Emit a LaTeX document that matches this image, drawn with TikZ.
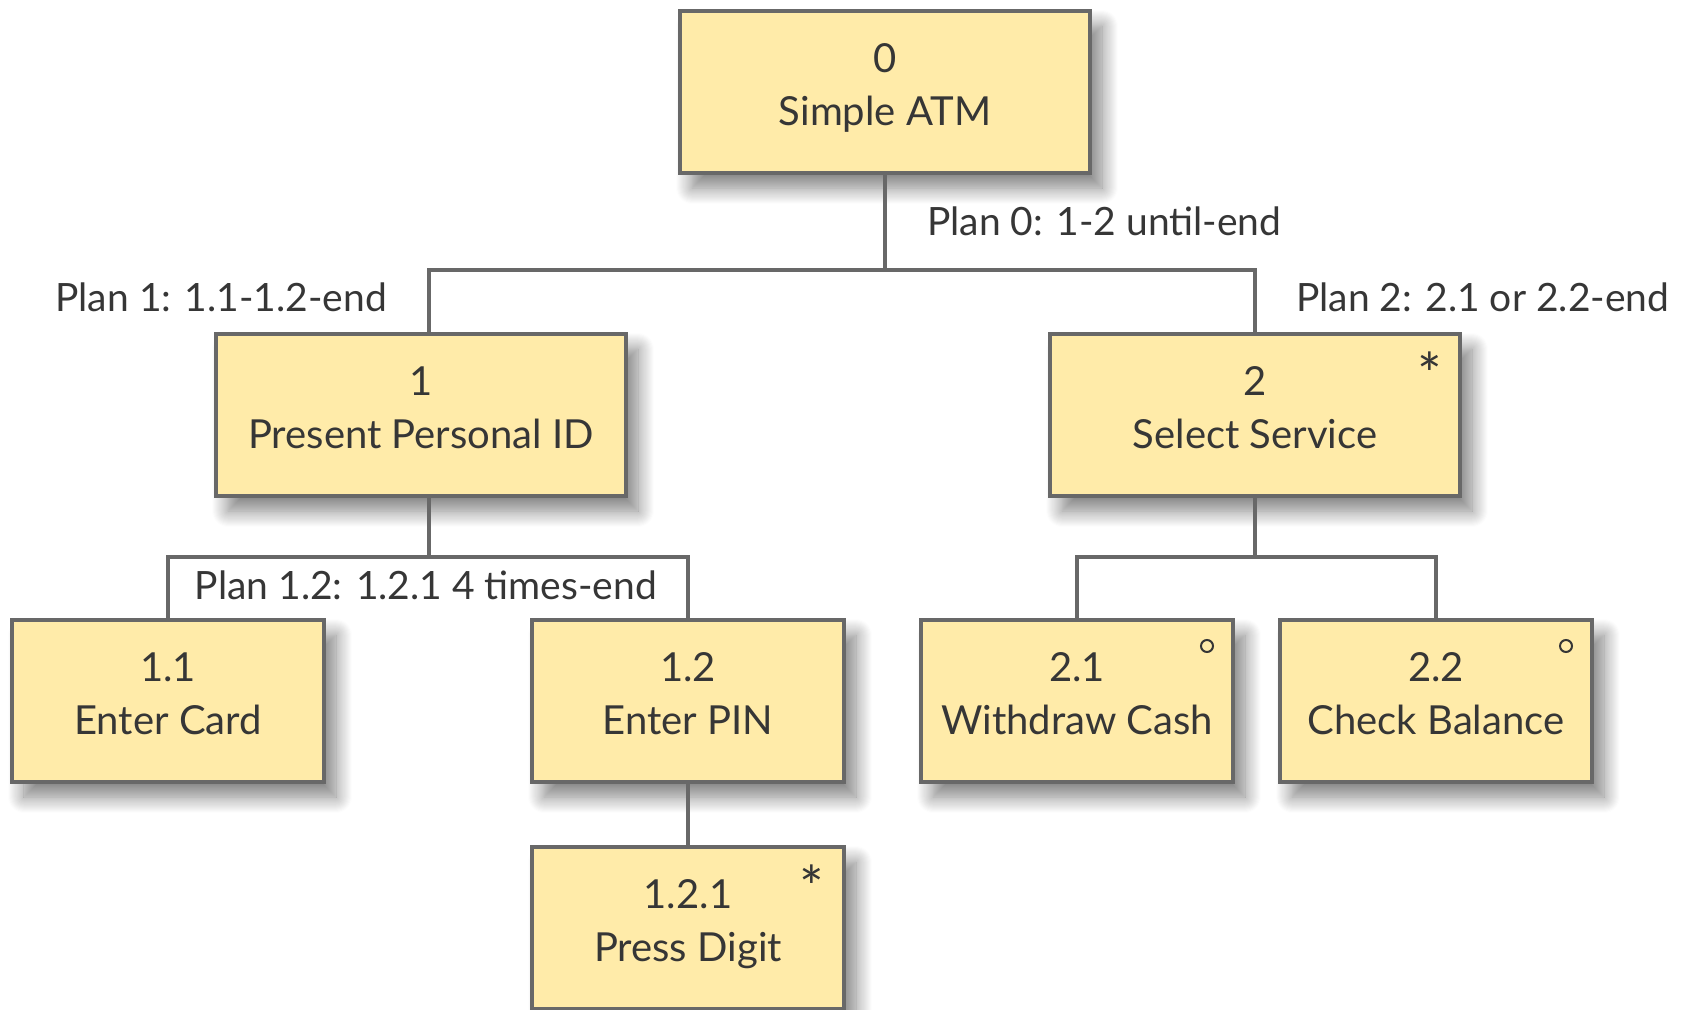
\documentclass[tikz,border=0pt]{standalone}
\usepackage{fontspec}
\setmainfont{Lato}
\usepackage{xcolor}
\usepackage{tikz}
\usetikzlibrary{positioning,calc,shadows.blur}
\definecolor{boxfill}{RGB}{255,235,169}
\definecolor{boxline}{RGB}{104,104,104}
\definecolor{ink}{RGB}{54,54,54}

\begin{document}
\begin{tikzpicture}[x=1pt,y=-1pt,
  task/.style={draw=boxline,line width=4pt,fill=boxfill,minimum width=312,minimum height=162,
    align=center,text=ink,font=\fontsize{40}{53}\selectfont,text height=82pt,text depth=16pt,
    blur shadow={shadow xshift=12pt,shadow yshift=-15pt,shadow blur radius=16pt,shadow blur steps=16,shadow opacity=50}},
  widetask/.style={task,minimum width=410},
  plan/.style={text=ink,font=\fontsize{39}{44}\selectfont,inner sep=0pt},
  link/.style={draw=boxline,line width=3.2pt},
  often/.style={text=ink,font=\fontsize{58}{60}\selectfont,inner sep=0pt,anchor=north},
  option/.style={draw=ink,circle,line width=2pt,minimum size=12pt,inner sep=0pt}]
\path[use as bounding box,clip] (0,0) rectangle (1694,1009);
\node[widetask] (atm) at (885,92) {0\\Simple ATM};
\node[widetask] (pid) at (421,415) {1\\Present Personal ID};
\node[widetask] (srv) at (1255,415) {2\\Select Service};
\node[task] (card) at (168,701) {1.1\\Enter Card};
\node[task] (pin) at (688,701) {1.2\\Enter PIN};
\node[task] (digit) at (688,928) {1.2.1\\Press Digit};
\node[task] (cash) at (1077,701) {2.1\\Withdraw Cash};
\node[task] (bal) at (1436,701) {2.2\\Check Balance};
\node[often] (srvrep) at ($(srv.north east)+(-32,20)$) {*};
\node[often] (digitrep) at ($(digit.north east)+(-34,20)$) {*};
\node[option] (cashopt) at ($(cash.north east)+(-28,28)$) {};
\node[option] (balopt) at ($(bal.north east)+(-28,28)$) {};
\coordinate (split0) at (885,270);
\coordinate (split1) at (429,557);
\coordinate (split2) at (1255,557);
\draw[link] (atm.south) -- (split0);
\draw[link] ([xshift=8pt]pid.north) |- (split0) -| (srv.north);
\draw[link] ([xshift=8pt]pid.south) -- (split1);
\draw[link] (card.north) |- (split1) -| (pin.north);
\draw[link] (pin.south) -- (digit.north);
\draw[link] (srv.south) -- (split2);
\draw[link] (cash.north) |- (split2) -| (bal.north);
\node[plan,anchor=base west] (plan0) at (927,235) {Plan 0: 1-2 until-end};
\node[plan,anchor=base east] (plan1) at (387,311) {Plan 1: 1.1-1.2-end};
\node[plan,anchor=base west] (plan2) at (1296,311) {Plan 2: 2.1 or 2.2-end};
\node[plan,anchor=base] (plan12) at (426,599) {Plan 1.2: 1.2.1 4 times-end};
\end{tikzpicture}
\end{document}
